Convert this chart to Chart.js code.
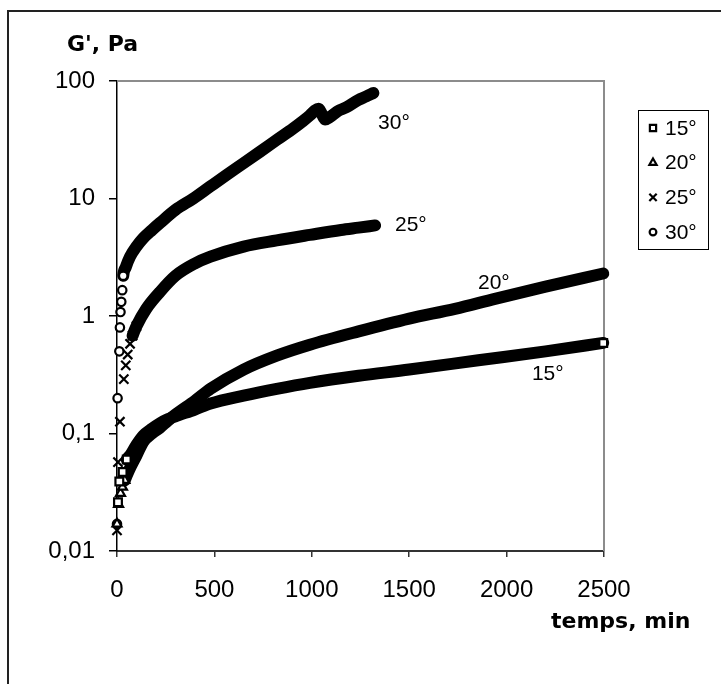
<!DOCTYPE html>
<html>
<head>
<meta charset="utf-8">
<title>G' vs temps</title>
<script src="https://cdn.jsdelivr.net/npm/chart.js"></script>
<style>
  html, body { margin: 0; padding: 0; background: #fff; }
  #wrap { position: relative; width: 721px; height: 684px; }
</style>
</head>
<body>
<div id="wrap"><canvas id="gChart"></canvas></div>
<script>
// values (time in min, G' in Pa)
const seriesNames = ['15°', '20°', '25°', '30°'];

const time15 = [5, 12, 29, 50, 70, 100, 135, 180, 220, 260, 300, 400, 480, 650, 820, 990, 1240, 1500, 1855, 2200, 2496];
const g15 = [0.026, 0.039, 0.047, 0.06, 0.066, 0.08, 0.096, 0.11, 0.122, 0.132, 0.14, 0.16, 0.18, 0.21, 0.24, 0.27, 0.31, 0.35, 0.42, 0.5, 0.59];

const time20 = [0, 8, 18, 28, 40, 60, 100, 135, 180, 220, 260, 300, 400, 480, 650, 820, 990, 1240, 1500, 1735, 1940, 2200, 2496];
const g20 = [0.017, 0.025, 0.031, 0.035, 0.04, 0.048, 0.065, 0.085, 0.1, 0.112, 0.128, 0.145, 0.19, 0.24, 0.35, 0.46, 0.57, 0.74, 0.95, 1.15, 1.4, 1.78, 2.3];

const time25 = [0, 5, 15, 35, 45, 55, 67, 80, 100, 150, 220, 300, 400, 480, 650, 820, 990, 1150, 1240, 1325];
const g25 = [0.015, 0.057, 0.126, 0.29, 0.38, 0.47, 0.58, 0.68, 0.82, 1.15, 1.6, 2.2, 2.8, 3.2, 3.9, 4.4, 4.9, 5.4, 5.65, 5.9];

const time30 = [0, 3, 12, 15, 18, 22, 27, 32, 45, 67, 100, 135, 180, 221, 300, 392, 477, 563, 650, 734, 820, 905, 950, 990, 1015, 1035, 1050, 1068, 1090, 1130, 1180, 1239, 1280, 1316];
const g30 = [0.017, 0.2, 0.5, 0.8, 1.08, 1.32, 1.66, 2.2, 2.6, 3.2, 3.9, 4.6, 5.4, 6.2, 8.0, 10, 12.6, 15.9, 20, 25, 31.5, 39.5, 45, 51, 56, 58, 53, 47, 49, 55, 60, 69, 74, 79];

const xTickValues = [0, 500, 1000, 1500, 2000, 2500];
const yTickValues = [0.01, 0.1, 1, 10, 100];
const yTickLabels = ['0,01', '0,1', '1', '10', '100'];

const times = [time15, time20, time25, time30];
const values = [g15, g20, g25, g30];

// look of each series
const markerStyles = ['rect', 'triangle', 'crossRot', 'circle'];
const markerRadius = [5.5, 5.2, 6.5, 4.2];
const markerUntil = [4, 5, 9, 8];   // early points drawn as separate markers
const lineFrom = [3, 4, 7, 7];      // thick band starts at this point

// curve labels, placed in data coordinates
const curveLabels = [
  { text: '30°', x: 1340, y: 44 },
  { text: '25°', x: 1427, y: 5.9 },
  { text: '20°', x: 1853, y: 1.9 },
  { text: '15°', x: 2130, y: 0.32 }
];

const tickFont = { family: 'Liberation Sans', size: 24 };

function drawMarker(ctx, style, x, y, r) {
  ctx.beginPath();
  if (style === 'rect') {
    const s = r * Math.SQRT1_2;
    ctx.rect(x - s, y - s, 2 * s, 2 * s);
    ctx.fill(); ctx.stroke();
  } else if (style === 'triangle') {
    ctx.moveTo(x, y - r);
    ctx.lineTo(x + r * 0.87, y + r * 0.5);
    ctx.lineTo(x - r * 0.87, y + r * 0.5);
    ctx.closePath();
    ctx.fill(); ctx.stroke();
  } else if (style === 'crossRot') {
    const s = r * Math.SQRT1_2;
    ctx.moveTo(x - s, y - s); ctx.lineTo(x + s, y + s);
    ctx.moveTo(x + s, y - s); ctx.lineTo(x - s, y + s);
    ctx.stroke();
  } else {
    ctx.arc(x, y, r, 0, Math.PI * 2);
    ctx.fill(); ctx.stroke();
  }
}

const decorPlugin = {
  id: 'decor',
  beforeDraw(chart) {
    const ctx = chart.ctx;
    ctx.save();
    ctx.fillStyle = '#fff';
    ctx.fillRect(0, 0, chart.width, chart.height);
    // outer frame (only top and left visible)
    ctx.strokeStyle = '#222';
    ctx.lineWidth = 2;
    ctx.beginPath();
    ctx.moveTo(8, chart.height);
    ctx.lineTo(8, 11);
    ctx.lineTo(chart.width, 11);
    ctx.stroke();
    ctx.restore();
  },
  beforeDatasetsDraw(chart) {
    const a = chart.chartArea;
    const ctx = chart.ctx;
    ctx.save();
    ctx.strokeStyle = '#8c8c8c';
    ctx.lineWidth = 2;
    ctx.beginPath();
    ctx.moveTo(a.left, a.top);
    ctx.lineTo(a.right, a.top);
    ctx.lineTo(a.right, a.bottom);
    ctx.stroke();
    ctx.restore();
  },
  afterDraw(chart) {
    const ctx = chart.ctx;
    const xs = chart.scales.x, ys = chart.scales.y;
    ctx.save();
    ctx.fillStyle = '#000';

    // axis titles
    ctx.font = "bold 22px 'DejaVu Sans', sans-serif";
    ctx.textAlign = 'left';
    ctx.textBaseline = 'alphabetic';
    ctx.fillText("G', Pa", 67, 51);
    ctx.fillText('temps, min', 551, 628);

    // curve labels
    ctx.font = "21px 'Liberation Sans', sans-serif";
    ctx.textBaseline = 'middle';
    curveLabels.forEach(l => {
      ctx.fillText(l.text, xs.getPixelForValue(l.x), ys.getPixelForValue(l.y));
    });

    // legend box
    ctx.strokeStyle = '#000';
    ctx.lineWidth = 1;
    ctx.strokeRect(638.5, 110.5, 70, 139);
    seriesNames.forEach((name, i) => {
      const y = 128 + i * 34.7;
      ctx.fillStyle = '#fff';
      ctx.strokeStyle = '#000';
      ctx.lineWidth = 2.2;
      drawMarker(ctx, markerStyles[i], 653, y, markerRadius[i] * 0.8);
      ctx.fillStyle = '#000';
      ctx.fillText(name, 665, y + 1);
    });
    ctx.restore();
  }
};

const datasets = seriesNames.map((name, i) => {
  const last = times[i].length - 1;
  return {
    label: name,
    data: times[i].map((t, k) => ({ x: t, y: values[i][k] })),
    borderColor: '#000',
    borderWidth: 12,
    borderCapStyle: 'round',
    borderJoinStyle: 'round',
    cubicInterpolationMode: 'monotone',
    fill: false,
    clip: false,
    pointStyle: markerStyles[i],
    pointRadius: c => (c.dataIndex < markerUntil[i] || (i === 0 && c.dataIndex === last)) ? markerRadius[i] : 0,
    pointBorderWidth: 2.2,
    pointBorderColor: '#000',
    pointBackgroundColor: '#fff',
    segment: {
      borderColor: c => c.p0DataIndex < lineFrom[i] ? 'rgba(0,0,0,0)' : '#000'
    }
  };
});

new Chart(document.getElementById('gChart'), {
  type: 'line',
  data: { datasets: datasets },
  options: {
    responsive: true,
    maintainAspectRatio: false,
    animation: false,
    events: [],
    layout: { padding: { top: 81, right: 117, bottom: 63, left: 0 } },
    plugins: { legend: { display: false }, tooltip: { enabled: false } },
    scales: {
      x: {
        type: 'linear',
        min: 0,
        max: 2500,
        afterBuildTicks: s => { s.ticks = xTickValues.map(v => ({ value: v })); },
        afterFit: s => { s.height = 70; },
        ticks: { font: tickFont, color: '#000', padding: 19, maxRotation: 0, callback: v => String(v) },
        grid: { drawOnChartArea: false, drawTicks: true, tickLength: 6, color: '#333', lineWidth: 1.5 },
        border: { display: true, color: '#333', width: 2 }
      },
      y: {
        type: 'logarithmic',
        min: 0.01,
        max: 100,
        afterBuildTicks: s => { s.ticks = yTickValues.map(v => ({ value: v })); },
        afterFit: s => { s.width = 117; },
        ticks: {
          font: tickFont,
          color: '#000',
          padding: 14,
          callback: (v, idx) => yTickLabels[idx]
        },
        grid: { drawOnChartArea: false, drawTicks: true, tickLength: 8, color: '#000', lineWidth: 1.5 },
        border: { display: true, color: '#000', width: 1.5 }
      }
    }
  },
  plugins: [decorPlugin]
});
</script>
</body>
</html>
